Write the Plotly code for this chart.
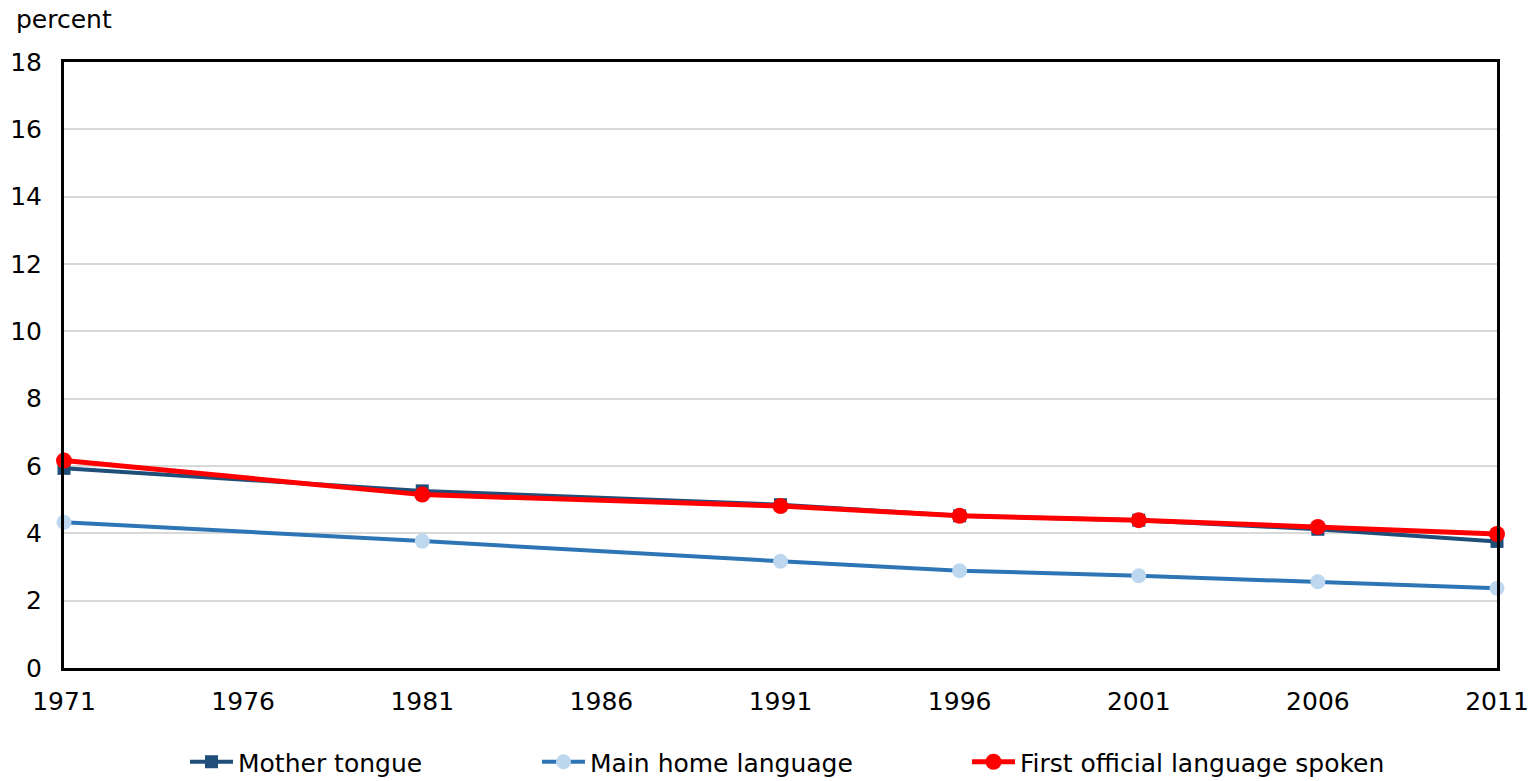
import plotly.graph_objects as go

years = [1971, 1981, 1991, 1996, 2001, 2006, 2011]
mother_tongue = [5.93, 5.26, 4.85, 4.52, 4.39, 4.12, 3.76]
main_home_language = [4.33, 3.77, 3.17, 2.89, 2.74, 2.56, 2.37]
first_official_language = [6.16, 5.15, 4.81, 4.52, 4.39, 4.19, 3.98]

FONT = "DejaVu Sans, Verdana, sans-serif"
FS = 25
W, H = 1531, 781
L, R, T, B = 64, 34, 62, 113
PW = W - L - R
PH = H - T - B


def px_x(p):
    return (p - L) / PW


def px_y(p):
    return (H - B - p) / PH


fig = go.Figure()
fig.add_trace(go.Scatter(
    x=years, y=mother_tongue, name="Mother tongue", mode="lines+markers",
    line=dict(color="#1f4e79", width=4),
    marker=dict(symbol="square", size=13, color="#1f4e79"),
    cliponaxis=False, legend="legend",
))
fig.add_trace(go.Scatter(
    x=years, y=main_home_language, name="Main home language", mode="lines+markers",
    line=dict(color="#2e75b6", width=4),
    marker=dict(symbol="circle", size=15, color="#bdd7ee"),
    cliponaxis=False, legend="legend2",
))
fig.add_trace(go.Scatter(
    x=years, y=first_official_language, name="First official language spoken",
    mode="lines+markers",
    line=dict(color="#ff0000", width=5),
    marker=dict(symbol="circle", size=16, color="#ff0000"),
    cliponaxis=False, legend="legend3",
))

legend_common = dict(orientation="h", yanchor="middle", xanchor="left",
                     font=dict(family=FONT, size=FS, color="black"),
                     bgcolor="rgba(0,0,0,0)", itemwidth=43)
fig.update_layout(
    width=W, height=H,
    margin=dict(l=L, r=R, t=T, b=B, autoexpand=False),
    paper_bgcolor="white", plot_bgcolor="white",
    font=dict(family=FONT, size=FS, color="black"),
    showlegend=True,
    legend=dict(legend_common, x=px_x(185), y=px_y(762)),
    legend2=dict(legend_common, x=px_x(537), y=px_y(762)),
    legend3=dict(legend_common, x=px_x(967), y=px_y(762)),
    annotations=[dict(text="percent", xref="paper", yref="paper",
                      x=px_x(14), y=px_y(20), xanchor="left", yanchor="middle",
                      showarrow=False, font=dict(family=FONT, size=FS))],
)
fig.update_xaxes(range=[1971, 2011], tick0=1971, dtick=5, showgrid=False,
                 showline=True, linecolor="black", linewidth=3, mirror=True,
                 ticks="", zeroline=False, ticklabelstandoff=9)
fig.update_yaxes(range=[0, 18], dtick=2, showgrid=True, gridcolor="#d9d9d9", gridwidth=2,
                 showline=True, linecolor="black", linewidth=3, mirror=True,
                 ticks="", zeroline=False, ticklabelstandoff=14)

fig.write_html("out.html")
